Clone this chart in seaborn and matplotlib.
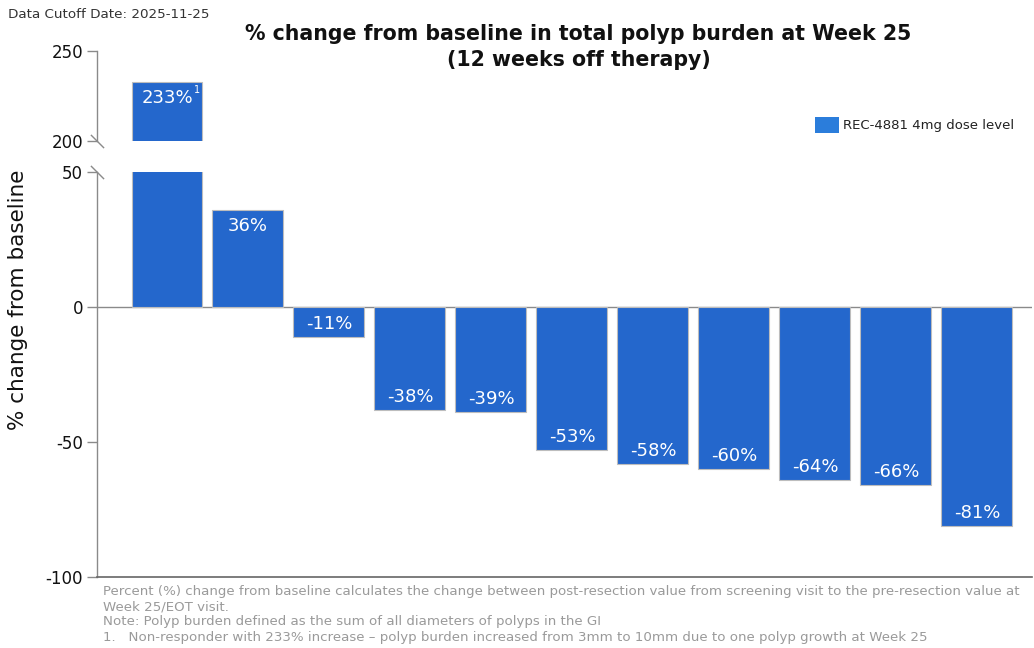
import numpy as np
import pandas as pd
import matplotlib
matplotlib.use("Agg")
import matplotlib.pyplot as plt
import seaborn as sns
from matplotlib.patches import Patch

# ---------------- data ----------------
subjects = [f"S{i}" for i in range(1, 12)]
pct_change = [233, 36, -11, -38, -39, -53, -58, -60, -64, -66, -81]
series_name = "REC-4881 4mg dose level"
top_ticks = [200, 250]
bottom_ticks = [-100, -50, 0, 50]
title_text = "% change from baseline in total polyp burden at Week 25\n(12 weeks off therapy)"
ylabel_text = "% change from baseline"
cutoff_text = "Data Cutoff Date: 2025-11-25"
footnotes = [
    "Percent (%) change from baseline calculates the change between post-resection value from screening visit to the pre-resection value at",
    "Week 25/EOT visit.",
    "Note: Polyp burden defined as the sum of all diameters of polyps in the GI",
    "1.   Non-responder with 233% increase \u2013 polyp burden increased from 3mm to 10mm due to one polyp growth at Week 25",
]
footnote_marker = "1"

# ---------------- style ----------------
sns.set_theme(style="white")
plt.rcParams["font.family"] = ["DejaVu Sans"]
plt.rcParams["axes.unicode_minus"] = False
bar_color = "#2467CC"
legend_color = "#2B7DDB"
edge_color = "#BDBDBD"
axis_gray = "#8A8A8A"

df = pd.DataFrame({"subject": subjects, "change": pct_change, "group": series_name})

fig = plt.figure(figsize=(10.34, 6.48), dpi=100)
W, H = 1034, 648
left = 97 / W
width = 935 / W
ax_top = fig.add_axes([left, 1 - 141 / H, width, 90 / H])
ax_bot = fig.add_axes([left, 1 - 577 / H, width, 405 / H])

for ax in (ax_top, ax_bot):
    sns.barplot(data=df, x="subject", y="change", color=bar_color, saturation=1,
                width=0.876, edgecolor=edge_color, linewidth=0.8, ax=ax, errorbar=None)
    ax.set_xlim(-0.864, 10.68)
    ax.set_xlabel("")
    ax.set_ylabel("")
    ax.set_xticks([])
    for s in ("top", "right"):
        ax.spines[s].set_visible(False)
    ax.spines["left"].set_color(axis_gray)
    ax.spines["left"].set_linewidth(1)
    ax.tick_params(axis="y", left=True, direction="out", length=7, width=1,
                   color=axis_gray, labelsize=12, labelcolor="#111111", pad=3)

ax_top.set_ylim(200, 250)
ax_top.set_yticks(top_ticks)
ax_top.spines["bottom"].set_visible(False)

ax_bot.set_ylim(-100, 50)
ax_bot.set_yticks(bottom_ticks)
ax_bot.spines["bottom"].set_color("#666666")
ax_bot.spines["bottom"].set_linewidth(1.2)
ax_bot.axhline(0, color=axis_gray, lw=1, zorder=0.5)

# break marks
brk = dict(marker=[(-1, 1), (1, -1)], markersize=9.5, linestyle="none",
           color=axis_gray, mec=axis_gray, mew=1, clip_on=False)
ax_top.plot([0], [0], transform=ax_top.transAxes, **brk)
ax_bot.plot([0], [1], transform=ax_bot.transAxes, **brk)

# bar labels
bot_lo, bot_hi = ax_bot.get_ylim()
lab_fs = 13
for i, v in enumerate(pct_change):
    lab = f"{v}%"
    if v > bot_hi:
        ax_top.annotate(lab, xy=(i, v), xytext=(0, -16), textcoords="offset pixels",
                        ha="center", va="center", color="white", fontsize=lab_fs)
        ax_top.annotate(footnote_marker, xy=(i, v), xytext=(30, -8), textcoords="offset pixels",
                        ha="center", va="center", color="white", fontsize=7)
    elif v >= 0:
        ax_bot.annotate(lab, xy=(i, v), xytext=(0, -16), textcoords="offset pixels",
                        ha="center", va="center", color="white", fontsize=lab_fs)
    else:
        ax_bot.annotate(lab, xy=(i, v), xytext=(0, 13), textcoords="offset pixels",
                        ha="center", va="center", color="white", fontsize=lab_fs)

# legend
fig.legend(handles=[Patch(facecolor=legend_color, edgecolor="none", label=series_name)],
           loc="center left", bbox_to_anchor=(815 / W, 1 - 125 / H), frameon=False,
           borderpad=0, borderaxespad=0, handlelength=1.85, handleheight=1.6,
           handletextpad=0.25, fontsize=9.5, labelcolor="#222222")

# titles & labels
fig.text(578.5 / W, 1 - 47 / H, title_text, ha="center", va="center", multialignment="center",
         fontsize=14.8, fontweight="bold", color="#111111", linespacing=1.38)
fig.text(18 / W, 1 - 300 / H, ylabel_text, rotation=90, ha="center", va="center",
         fontsize=15.5, color="#111111")
fig.text(8 / W, 1 - 14 / H, cutoff_text, ha="left", va="center", fontsize=9.7, color="#333333")

# footnotes, fitted to the reference width
ys = [591, 607, 622, 638]
texts = []
for line, y in zip(footnotes, ys):
    texts.append(fig.text(103 / W, 1 - y / H, line, ha="left", va="center",
                          fontsize=10, color="#9A9A9A"))
renderer = fig.canvas.get_renderer()
w0 = texts[0].get_window_extent(renderer).width
fs = 10 * 914 / w0
for t in texts:
    t.set_fontsize(fs)

fig.savefig("out.png", dpi=100)
